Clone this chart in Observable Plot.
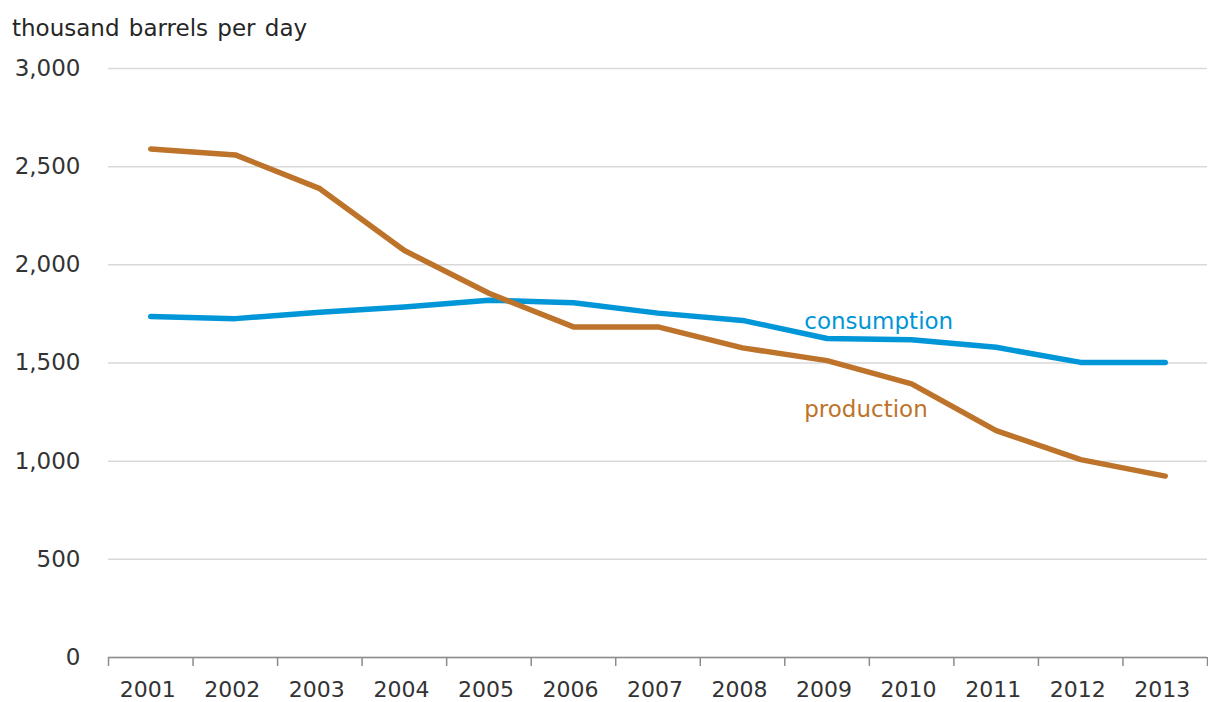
<!DOCTYPE html>
<html>
<head>
<meta charset="utf-8">
<script src="https://cdn.jsdelivr.net/npm/d3@7"></script>
<script src="https://cdn.jsdelivr.net/npm/@observablehq/plot@0.6"></script>
<style>
  html, body { margin: 0; padding: 0; background: #fff; }
  #wrap { position: relative; width: 1208px; height: 702px; font-family: "DejaVu Sans", sans-serif; }
  #title { position: absolute; left: 12px; top: 17px; font-size: 23px; line-height: 23px; word-spacing: 2px; color: #262626; white-space: nowrap; }
  #chart { position: absolute; left: 0; top: 50px; }
</style>
</head>
<body>
<div id="wrap">
  <div id="title">thousand barrels per day</div>
  <div id="chart"></div>
</div>
<script>
const years = [2001, 2002, 2003, 2004, 2005, 2006, 2007, 2008, 2009, 2010, 2011, 2012, 2013];
const production = [2590, 2560, 2388, 2073, 1855, 1684, 1684, 1577, 1512, 1394, 1156, 1008, 924];
const consumption = [1737, 1726, 1758, 1785, 1820, 1807, 1754, 1717, 1625, 1618, 1580, 1503, 1503];
const yTicks = [0, 500, 1000, 1500, 2000, 2500, 3000];
const seriesLabels = [
  {text: "consumption", x: 2008.73, y: 1712, color: "#0096d7"},
  {text: "production", x: 2008.73, y: 1265, color: "#bd732a"}
];

const prodData = years.map((year, i) => ({year, value: production[i]}));
const consData = years.map((year, i) => ({year, value: consumption[i]}));
const boundaries = d3.range(years[0] - 0.5, years[years.length - 1] + 1, 1);

const chart = Plot.plot({
  width: 1208,
  height: 652,
  marginLeft: 108,
  marginRight: 1,
  marginTop: 18,
  marginBottom: 45,
  style: {fontFamily: "DejaVu Sans, sans-serif", fontSize: "22px", color: "#333", background: "#fff", overflow: "visible"},
  x: {type: "linear", domain: [years[0] - 0.5, years[years.length - 1] + 0.5]},
  y: {domain: [0, 3000]},
  marks: [
    Plot.gridY(yTicks, {stroke: "#d9d9d9", strokeOpacity: 1, strokeWidth: 1.5}),
    Plot.ruleY([0], {stroke: "#8c8c8c", strokeWidth: 1.5}),
    Plot.axisY({ticks: yTicks, tickSize: 0, tickPadding: 28, tickFormat: d3.format(","), label: null, fill: "#333", fontSize: 23}),
    Plot.axisX({ticks: years, tickSize: 0, tickPadding: 24, tickFormat: d => String(d), label: null, fill: "#333", fontSize: 22, dx: -3}),
    Plot.axisX({ticks: boundaries, tickSize: 9, tickFormat: () => "", stroke: "#8c8c8c", strokeWidth: 1.5, label: null}),
    Plot.line(consData, {x: "year", y: "value", stroke: "#0096d7", strokeWidth: 5.5}),
    Plot.line(prodData, {x: "year", y: "value", stroke: "#bd732a", strokeWidth: 5.5}),
    Plot.text(seriesLabels, {x: "x", y: "y", text: "text", fill: "color", textAnchor: "start", fontSize: 23})
  ]
});
document.getElementById("chart").appendChild(chart);
</script>
</body>
</html>
